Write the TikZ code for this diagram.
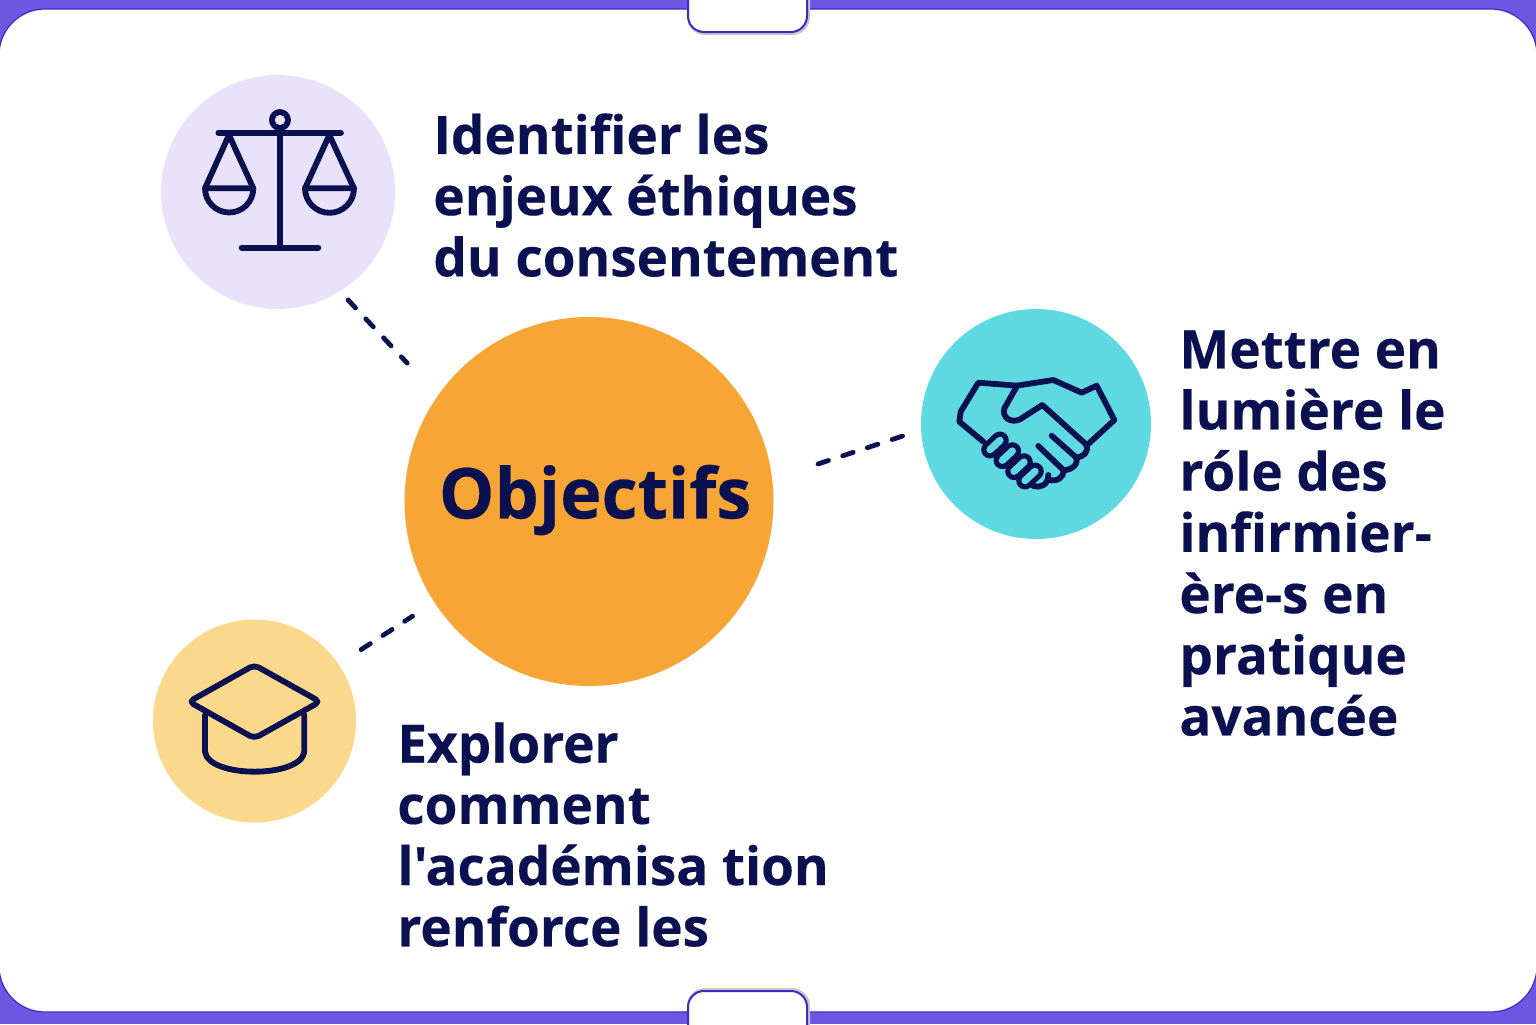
\documentclass[tikz,border=0pt]{standalone}
\usepackage{fontspec}
\newfontfamily\goalfont[BoldFeatures={FakeBold=0.35}]{Open Sans}
\usepackage{xcolor}
\usetikzlibrary{calc}
\definecolor{navy}{HTML}{0B1050}
\definecolor{framepurple}{HTML}{6C56E2}
\definecolor{edgepurple}{HTML}{3A2BC0}
\definecolor{lavender}{HTML}{E8E3FA}
\definecolor{objorange}{HTML}{F7A534}
\definecolor{teal}{HTML}{5FD9E1}
\definecolor{sand}{HTML}{FBD98C}
\tikzset{
  disc/.style={circle,inner sep=0pt,draw=none},
  goal/.style={anchor=north west,inner sep=0pt,align=left,text=navy,
    font=\goalfont\fontsize{26.5}{30.6}\selectfont\bfseries},
  dashlink/.style={navy,line width=2.4pt,line cap=round,dash pattern=on 5.5pt off 7.5pt},
  icon/.style={navy,line width=2.9pt,line cap=round,line join=round},
  tab/.style={fill=white,draw=edgepurple,line width=1pt},
  tabshade/.style={draw=black!22,line width=2pt}
}
\begin{document}
\begin{tikzpicture}[x=0.5pt,y=-0.5pt]
  \useasboundingbox (0,0) rectangle (1536,1024);
  % Frame and card
  \fill[framepurple] (0,0) rectangle (1536,1024);
  \draw[fill=white,draw=edgepurple,line width=.6pt,rounded corners=23pt]
    (-1,9) -- (1537,9) -- (1537,1012) -- (-1,1012) -- cycle;
  \draw[tabshade,rounded corners=8pt] (689,-20) -- (689,33) -- (808,33) -- (808,-20);
  \draw[tab,rounded corners=8pt] (688,-20) -- (688,32) -- (807,32) -- (807,-20);
  \draw[tabshade,rounded corners=8pt] (689,1044) -- (689,990) -- (808,990) -- (808,1044);
  \draw[tab,rounded corners=8pt] (688,1044) -- (688,991) -- (807,991) -- (807,1044);

  % Discs
  \node[disc,fill=objorange,minimum size=184.5pt] (objectifs) at (589,501.5) {};
  \node[disc,fill=lavender,minimum size=117pt] (balance) at (278,192) {};
  \node[disc,fill=teal,minimum size=115pt] (accord) at (1036,424) {};
  \node[disc,fill=sand,minimum size=101.5pt] (toque) at (254.5,721) {};
  \node[text=navy,font=\goalfont\fontsize{35}{40}\selectfont\bfseries] (titre) at (595,500) {Objectifs};

  % Dashed links
  \draw[dashlink,shorten <=5.7pt,shorten >=22.2pt] (balance.-58.8) -- (objectifs.145.9);
  \draw[dashlink,shorten <=9.6pt,shorten >=21.5pt] (accord.183.3) -- (objectifs.7.3);
  \draw[dashlink,shorten <=13.2pt,shorten >=12.8pt] (toque.34.9) -- (objectifs.213.7);

  % Scales
  \begin{scope}[shift={(150,60)},x=0.5pt/3,y=-0.5pt/3]
    \draw[icon] (205,218) -- (573,218);
    \draw[icon] (390,180) circle (24);
    \draw[icon] (390,218) -- (390,563);
    \draw[icon] (275,563) -- (505,563);
    \draw[icon] (165,385) -- (237,225) -- (310,385);
    \draw[icon] (165,385) -- (310,385) arc (0:180:72.5) -- cycle;
    \draw[icon] (465,385) -- (538,225) -- (612,385);
    \draw[icon] (465,385) -- (612,385) arc (0:180:73.5) -- cycle;
  \end{scope}

  % Handshake
  \begin{scope}[shift={(920,340)},x=0.5pt/3,y=-0.5pt/3]
    \draw[icon] (190,305) -- (118,245) -- (122,215) -- (175,128) -- (290,137) -- (400,120)
      -- (485,158) -- (530,137) -- (583,240) -- (505,312);
    \draw[icon] (290,140) -- (253,205) .. controls (245,235) and (275,250) .. (300,238)
      -- (367,195) -- (497,312) .. controls (510,335) and (490,352) .. (468,352);
    \draw[icon] (395,287) -- (468,352) .. controls (478,375) and (450,392) .. (430,390);
    \draw[icon] (355,318) -- (430,390) .. controls (432,415) and (410,425) .. (385,420);
    \draw[icon] (385,405) .. controls (385,435) and (360,445) .. (340,438);
    \foreach \cx/\cy in {330/408,297/380,262/347,225/315} {
      \draw[navy,line width=8.8pt,line cap=round] ($(\cx,\cy)+(-15,14)$) -- ($(\cx,\cy)+(15,-14)$);
      \draw[teal,line width=3.6pt,line cap=round] ($(\cx,\cy)+(-15,14)$) -- ($(\cx,\cy)+(15,-14)$);
    }
  \end{scope}

  % Cap
  \begin{scope}[shift={(150,620)},x=0.5pt/3,y=-0.5pt/3]
    \draw[icon,rounded corners=2.5pt] (313,135) -- (510,245) -- (313,355) -- (117,245) -- cycle;
    \draw[icon] (165,285) -- (165,395) .. controls (175,475) and (453,475) .. (463,395) -- (463,285);
  \end{scope}

  % Goals
  \node[goal] (goalun) at (433,113) {Identifier les\\enjeux éthiques\\du consentement};
  \node[goal] (goaldeux) at (1179,330) {Mettre en\\lumière le\\róle des\\infirmier-\\ère-s en\\pratique\\avancée};
  \node[goal] (goaltrois) at (397,722) {Explorer\\comment\\l'académisa tion\\renforce les};
\end{tikzpicture}
\end{document}
